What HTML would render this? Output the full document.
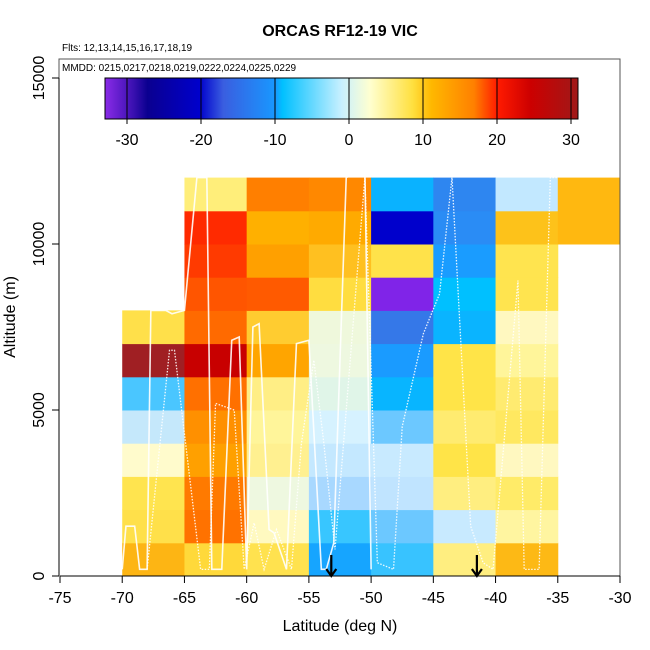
<!DOCTYPE html>
<html><head><meta charset="utf-8"><style>
body{margin:0;background:#fff}
svg{display:block;font-family:"Liberation Sans",sans-serif}
</style></head><body>
<svg id="c" width="650" height="650" viewBox="0 0 650 650">
<defs>
<linearGradient id="cb" x1="0" x2="1" y1="0" y2="0">
<stop offset="0" stop-color="#8a2be8"/><stop offset="0.06" stop-color="#3a10b0"/><stop offset="0.09" stop-color="#0a0090"/>
<stop offset="0.2" stop-color="#0000cc"/><stop offset="0.25" stop-color="#3a5ee0"/><stop offset="0.36" stop-color="#1898ff"/>
<stop offset="0.375" stop-color="#00c0ff"/><stop offset="0.5" stop-color="#c8f0ff"/><stop offset="0.56" stop-color="#ffffd0"/>
<stop offset="0.65" stop-color="#ffe040"/><stop offset="0.69" stop-color="#ffb800"/><stop offset="0.78" stop-color="#ff8000"/>
<stop offset="0.83" stop-color="#ff1a00"/><stop offset="0.9" stop-color="#cc0000"/><stop offset="1" stop-color="#a01818"/>
</linearGradient>
</defs>
<text x="340" y="36" text-anchor="middle" font-size="16" font-weight="bold">ORCAS RF12-19 VIC</text>
<text x="62" y="51" font-size="10">Flts: 12,13,14,15,16,17,18,19</text>
<g id="cells"></g>
<g id="tracks" fill="none" stroke="#fff"></g>
<g id="arrows"></g>
<rect x="59" y="59" width="561" height="90" fill="#fff" stroke="none"/>
<polyline points="59,80 59,59 620,59 620,576" fill="none" stroke="#555"/>
<text x="62" y="71" font-size="10">MMDD: 0215,0217,0218,0219,0222,0224,0225,0229</text>
<rect x="105" y="78" width="473" height="41" fill="url(#cb)" stroke="#000"/>
<g id="cbticks"></g>
<g id="axes"></g>
<text x="340" y="631" text-anchor="middle" font-size="16">Latitude (deg N)</text>
<text transform="translate(15,317) rotate(-90)" text-anchor="middle" font-size="16">Altitude (m)</text>
</svg>
<script>
const latBins=[-70,-65,-60,-55,-50,-45,-40,-35];
const cellColors=[
["#fdb514","#ffe04a","#ffe44f","#fffbcc","#c5e8fb","#4ac6ff","#a01f23","#ffe04a"],
["#ffd93a","#ff7200","#ff7a00","#ffa000","#ff9000","#ff7000","#c80000","#ff6a00","#ff5500","#ff3a00","#ff2a00","#ffee7a"],
["#ffe24f","#fff9c0","#eef8e0","#fff090","#fff59a","#ffee85","#ffa500","#ffcc30","#ff5a00","#ffa000","#ffb000","#ff7f00"],
["#16a5ff","#38c6ff","#a8d8ff","#c4e8ff","#d6f2ff","#e0f5e8","#eef8e0","#eff8dc","#ffdd40","#ffc020","#ffaa00","#ff8800"],
["#38c3ff","#6cc8ff","#c0e4ff","#c8eaff","#6cc8ff","#08b5ff","#1a9bff","#3578e8","#8024e8","#ffe24a","#0000cc","#0ab2ff"],
["#ffee80","#c8eaff","#ffee80","#ffe448","#ffeb70","#ffe448","#ffe448","#0ab4ff","#00c0ff","#1a9cff","#2a8cf5","#2e86f0"],
["#fdb915","#fff5a0","#ffeb68","#fff8c0","#ffe860","#ffeb70","#fff59a","#fff8c0","#ffe44f","#ffe44f","#fdc21a","#c2e8ff"],
[null,null,null,null,null,null,null,null,null,null,"#ffb810","#ffb810"]];
const xTicks=[-75,-70,-65,-60,-55,-50,-45,-40,-35,-30];
const yTicks=[0,5000,10000,15000];
const cbTicks=[-30,-20,-10,0,10,20,30];
const arrowLats=[-53.2,-41.5];
const trackA_lat=[-70,-69.7,-69,-68.6,-68,-67.7,-66.5,-66,-65,-64,-63.2,-62.8,-62,-61.2,-60.6,-60,-59.5,-59,-58.2,-57.8,-56.8,-56,-55,-54,-53.6,-53,-52,-51.5,-50.5,-50];
const trackA_alt=[200,1500,1500,200,200,8000,8000,7900,8000,12000,12000,200,200,7100,7200,200,7500,7600,1400,1300,200,7000,7100,200,200,1000,12000,12100,12200,200];
const trackB_lat=[-68,-66.2,-65.8,-63.7,-63,-62.5,-61,-60.2,-59.4,-58.6,-57.6,-56.4,-55.6,-54.6,-53.8,-52.9,-50.5,-49.5,-48.2,-47.5,-45.8,-44.5,-43.5,-42,-41,-40.2,-38.2,-37.7,-36.5,-35.6,-35];
const trackB_alt=[200,6800,6800,200,200,5200,5000,200,1600,200,1400,200,4000,6500,4000,800,12000,400,200,4500,7300,8500,12000,1500,400,200,8900,200,200,12000,12000];
function X(v){return 60+(v+75)*560/45;}
function Y(v){return 576-v*498/15000;}
function CB(v){return 349+v*7.4;}
const NS='http://www.w3.org/2000/svg';
function mk(t,p,a){const e=document.createElementNS(NS,t);for(const k in a)e.setAttribute(k,a[k]);p.appendChild(e);return e;}
const cells=document.getElementById('cells');
latBins.forEach((lat,i)=>{cellColors[i].forEach((c,j)=>{if(!c)return;
 const r=mk('rect',cells,{x:X(lat),y:Y((j+1)*1000),width:X(lat+5)-X(lat)+0.5,height:Y(j*1000)-Y((j+1)*1000)+0.5,fill:c});
 
 });});
const tr=document.getElementById('tracks');
[[trackA_lat,trackA_alt,'1.6',''],[trackB_lat,trackB_alt,'1.3','1.5 1.5']].forEach(t=>{
 const pts=t[0].map((v,i)=>X(v)+','+Y(t[1][i])).join(' ');
 const p=mk('polyline',tr,{points:pts,'stroke-width':t[2],'stroke-dasharray':t[3],opacity:0.9});
 
 });
const ar=document.getElementById('arrows');
arrowLats.forEach(l=>{const g=mk('g',ar,{stroke:'#000','stroke-width':2.2,fill:'none'});
 
 
 mk('line',g,{x1:X(l),y1:555,x2:X(l),y2:576});
 mk('polyline',g,{points:(X(l)-5)+',569 '+X(l)+',576 '+(X(l)+5)+',569'});});
const cbt=document.getElementById('cbticks');
cbTicks.forEach(v=>{const l=mk('line',cbt,{x1:CB(v),x2:CB(v),y1:78,y2:124,stroke:'#000','stroke-width':1});
 
 
 const t=mk('text',cbt,{x:CB(v),y:145,'text-anchor':'middle','font-size':16});t.textContent=v;
 
 });
const ax=document.getElementById('axes');
mk('line',ax,{x1:X(-75),x2:X(-30),y1:576,y2:576,stroke:'#000'});
mk('line',ax,{x1:59,x2:59,y1:Y(0),y2:Y(15000),stroke:'#000'});
xTicks.forEach(v=>{mk('line',ax,{x1:X(v),x2:X(v),y1:576,y2:583,stroke:'#000'});
 const t=mk('text',ax,{x:X(v),y:603,'text-anchor':'middle','font-size':16});t.textContent=v;
 
 });
yTicks.forEach(v=>{mk('line',ax,{x1:52,x2:59,y1:Y(v),y2:Y(v),stroke:'#000'});
 const t=mk('text',ax,{transform:'translate(44,'+Y(v)+') rotate(-90)','text-anchor':'middle','font-size':16});t.textContent=v;
 
 });
</script>
</body></html>
